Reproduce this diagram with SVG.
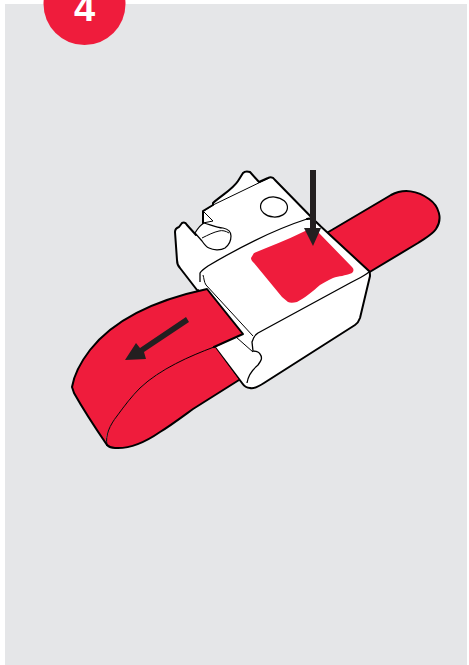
<svg xmlns="http://www.w3.org/2000/svg" width="469" height="665" viewBox="0 0 469 665">
<style>
.f{fill:#ef1c3c}
.r{fill:#ef1c3c;stroke:#000;stroke-width:2;stroke-linejoin:round}
.w{fill:#fff;stroke:#000;stroke-width:2;stroke-linejoin:round}
.k{fill:none;stroke:#000;stroke-width:2;stroke-linejoin:round;stroke-linecap:round}
.t{fill:none;stroke:#000;stroke-width:1}
.a{fill:#231f20}
</style>
<rect width="469" height="665" fill="#fff"/>
<rect x="5" y="4" width="462" height="661" fill="#e5e6e8"/>
<g id="badge">
<circle cx="84.500" cy="4" r="41" fill="#ef1c3c"/>
<text x="84.500" y="20.500" font-family="Liberation Sans, Arial, sans-serif" font-size="38" font-weight="700" fill="#fff" text-anchor="middle">4</text>
</g>
<g id="strap-back">
<path class="r" d="M325 234L391 195C404 188 418 191 429 199C439 206 443 219 436 229C432 235 425 238 418 243L368 273Z"/>
</g>
<g id="clip-body">
<path class="w" d="M197 290L180 268C178 266 177 263 177 260L175 232C175 229 176 228 179 227L182 223C184 222 186 223 187 225L196 235L203 230L203 211L213 205L213 203C222 195 233 189 238 181L243 173C245 171 247 171 250 172L259 182L268 178C270 177 273 177 275 180L320 226L250 300Z"/>
<path class="t" d="M204 211L213 205L269 178"/>
<path class="t" d="M203 211L213 221L203 223"/>
<path class="w" style="stroke-width:1.200" d="M195 233C198 228 200 225 204 223C209 224 216 228 223 228C228 229 231 232 231 236C231 241 229 245 225 248C220 251 213 250 209 248C206 247 204 244 202 241Z"/>
<path class="t" d="M202 238C208 235 214 232 219 231C222 230 226 231 229 233"/>
<ellipse class="w" style="stroke-width:1.200" cx="274" cy="207" rx="13.500" ry="10" transform="rotate(5 274 207)"/>
</g>
<g id="clip-front">
<path d="M200 273C202 270 205 268 208 266C240 247 273 230 307 219C310 218 313 219 316 222L369 271C370 272 370 274 370 276L360 318C359 321 358 323 355 325L264 383C258 387 254 389 250 388C247 388 244 386 242 383L215 347L199 290Z" fill="#fff"/>
<path class="k" d="M214 346L242 383C244 386 247 388 250 388C254 389 258 387 264 383L355 325C358 323 359 321 360 318L370 276C370 274 370 272 369 271L316 222C313 219 310 218 307 219"/>
<path class="t" style="stroke-width:1.300" d="M307 219C273 230 240 247 208 266C205 268 202 270 200 273L200 282"/>
<path class="t" style="stroke-width:1.300" d="M369 272C363 277 357 279 350 283L258 333C255 335 253 338 252 342L253 351C257 351 259 352 260 354C263 358 261 361 258 365C252 370 248 375 247 383"/>
<path class="t" d="M203 275C204 278 204 282 206 285L253 336"/>
<path class="t" d="M236 337L253 352"/>
<path class="f" d="M251 258L254 253C270 246 287 240 303 232C309 229 314 229 318 232L352 267C354 269 354 271 352 273C345 276 339 276 333 278C328 280 324 283 320 285C313 291 305 298 297 302C293 303 290 303 288 302L282 297L254 263C252 261 251 260 251 258Z"/>
</g>
<g id="strap-lower">
<path class="f" d="M214 346L239 380L193 409C182 417 170 426 160 432C147 441 130 449 115 448C112 448 109 447 107 445C105 435 110 425 117 416C125 405 132 396 140 388C160 369 190 356 214 346Z"/>
<path class="k" d="M239 380L193 409C182 417 170 426 160 432C147 441 130 449 115 448C112 448 109 447 107 445"/>
</g>
<g id="strap-front">
<path class="f" d="M207 289C160 299 115 318 90 350C80 363 74 375 72 387L74 393C83 409 94 426 106 443C105 435 110 425 117 416C125 405 132 396 140 388C160 369 190 356 214 348L243 334Z"/>
<path class="k" d="M107 445C94 426 83 409 74 393L72 387C74 375 80 363 90 350C115 318 160 299 207 289L243 334L214 347"/>
<path class="t" d="M107 445C105 435 110 425 117 416C125 405 132 396 140 388C160 369 190 356 214 347"/>
</g>
<g id="connectors">
<path class="a" d="M310 170H316V228H321L313 246L304 228H310Z"/>
<path class="a" d="M186 317L189 322L144 352L146 359L125 360L136 343L140 348Z"/>
</g>
</svg>
